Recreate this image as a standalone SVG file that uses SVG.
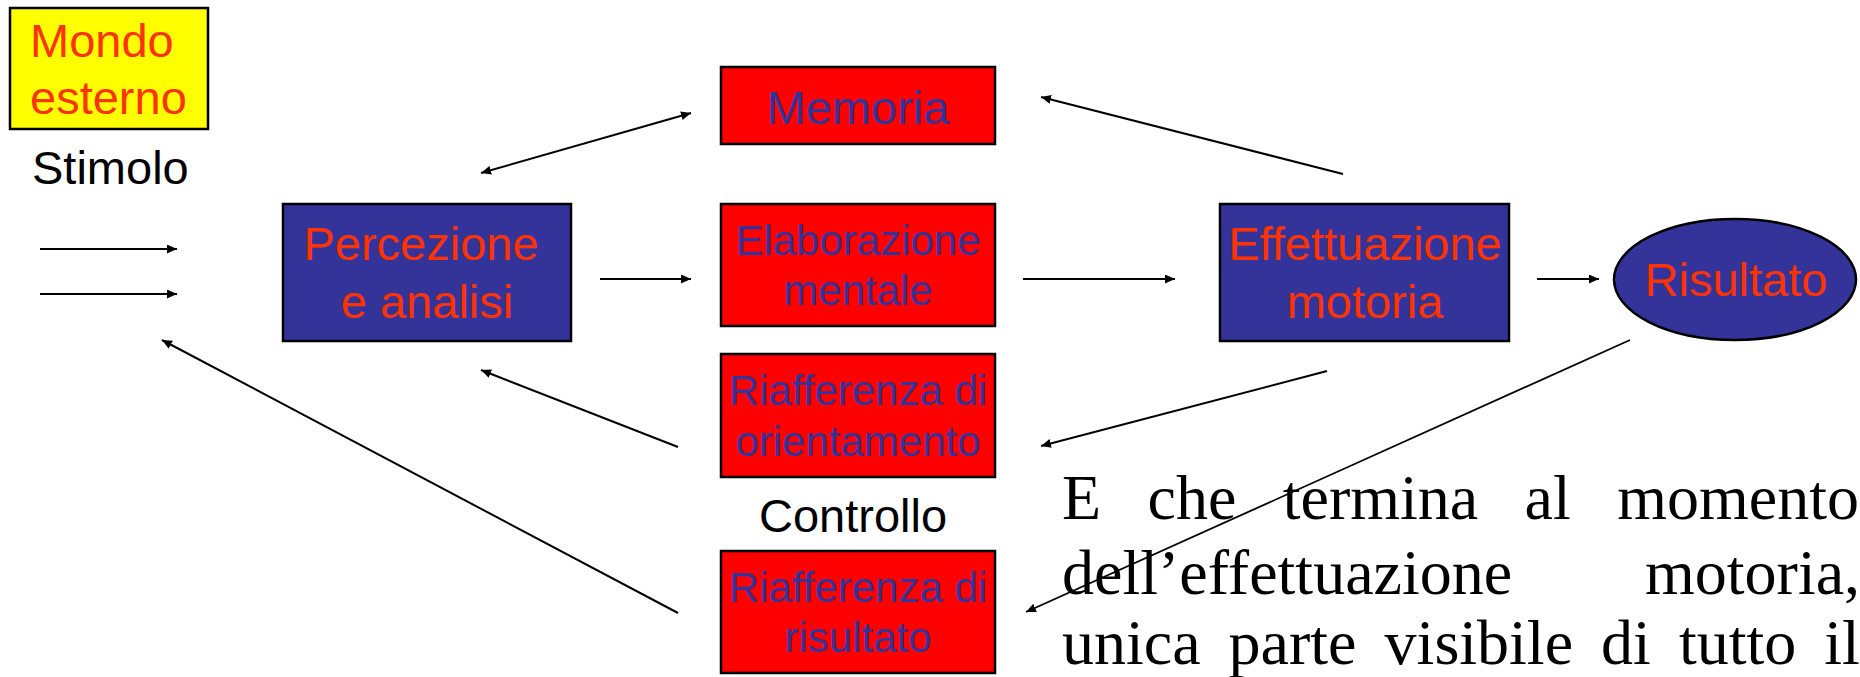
<svg xmlns="http://www.w3.org/2000/svg" width="1860" height="677" viewBox="0 0 1860 677">
<style>
.box{stroke:#000;stroke-width:2.5}
.blue{fill:#333399}
.red{fill:#FF0000}
.yel{fill:#FFFF00}
.t{font-family:"Liberation Sans",Arial,sans-serif;font-size:47px;text-anchor:middle}
.s{font-size:42px}
.or{fill:#FF3300}
.bl{fill:#333399}
.k{fill:#000}
.serif{font-family:"Liberation Serif","Times New Roman",serif;font-size:64px;fill:#000}
.c{stroke:#000;stroke-width:2;fill:none;marker-end:url(#ah)}
</style>
<defs>
<marker id="ah" markerUnits="userSpaceOnUse" markerWidth="12" markerHeight="10" refX="10" refY="4.5" orient="auto-start-reverse">
<path d="M0,0 L10,4.5 L0,9 z" fill="#000"/>
</marker>
</defs>
<rect width="1860" height="677" fill="#fff"/>

<g id="mondo">
<rect class="box yel" x="10" y="8" width="198" height="121"/>
<text class="t or" x="30" y="57" style="text-anchor:start">Mondo</text>
<text class="t or" x="30" y="114" style="text-anchor:start">esterno</text>
</g>
<g id="stimolo">
<text class="t k" x="32" y="184" style="text-anchor:start">Stimolo</text>
</g>
<g id="percezione">
<rect class="box blue" x="283" y="204" width="288" height="137"/>
<text class="t or" x="421" y="260">Percezione</text>
<text class="t or" x="427" y="318">e analisi</text>
</g>
<g id="memoria">
<rect class="box red" x="721" y="67" width="274" height="77"/>
<text class="t bl" x="858" y="124">Memoria</text>
</g>
<g id="elaborazione">
<rect class="box red" x="721" y="204" width="274" height="122"/>
<text class="t s bl" x="858" y="255">Elaborazione</text>
<text class="t s bl" x="858" y="305">mentale</text>
</g>
<g id="effettuazione">
<rect class="box blue" x="1220" y="204" width="289" height="137"/>
<text class="t or" x="1365" y="260">Effettuazione</text>
<text class="t or" x="1365" y="318">motoria</text>
</g>
<g id="risultato">
<ellipse class="box blue" cx="1735" cy="279.5" rx="121" ry="60.5"/>
<text class="t or" x="1736" y="296">Risultato</text>
</g>
<g id="riaff-orientamento">
<rect class="box red" x="721" y="354" width="274" height="123"/>
<text class="t s bl" x="858" y="405">Riafferenza di</text>
<text class="t s bl" x="858" y="456">orientamento</text>
</g>
<g id="controllo">
<text class="t k" x="853" y="532">Controllo</text>
</g>
<g id="riaff-risultato">
<rect class="box red" x="721" y="551" width="274" height="122"/>
<text class="t s bl" x="858" y="602">Riafferenza di</text>
<text class="t s bl" x="858" y="652">risultato</text>
</g>

<g id="connectors">
<path class="c" d="M40,249 L177,249"/>
<path class="c" d="M40,294 L177,294"/>
<path class="c" d="M600,279 L691,279"/>
<path class="c" d="M1023,279 L1175,279"/>
<path class="c" d="M1537,279 L1599,279"/>
<path class="c" style="marker-start:url(#ah)" d="M481,173 L691,113"/>
<path class="c" d="M1343,174 L1041,97"/>
<path class="c" d="M1327,371 L1041,446"/>
<path class="c" d="M678,447 L481,370"/>
<path class="c" d="M678,613 L162,340"/>
</g>

<g id="testo">
<text class="serif" y="519"><tspan x="1062">E</tspan><tspan x="1147.5">che</tspan><tspan x="1282.7">termina</tspan><tspan x="1524.6">al</tspan><tspan x="1617.2">momento</tspan></text>
<text class="serif" y="594"><tspan x="1062">dell’effettuazione</tspan><tspan x="1645">motoria,</tspan></text>
<text class="serif" y="664"><tspan x="1062">unica</tspan><tspan x="1228.6">parte</tspan><tspan x="1384.6">visibile</tspan><tspan x="1601">di</tspan><tspan x="1678.9">tutto</tspan><tspan x="1824.3">il</tspan></text>
</g>
<g id="connector-over-text">
<path class="c" style="stroke-width:1.8" d="M1630,340 L1026,612"/>
</g>
</svg>
